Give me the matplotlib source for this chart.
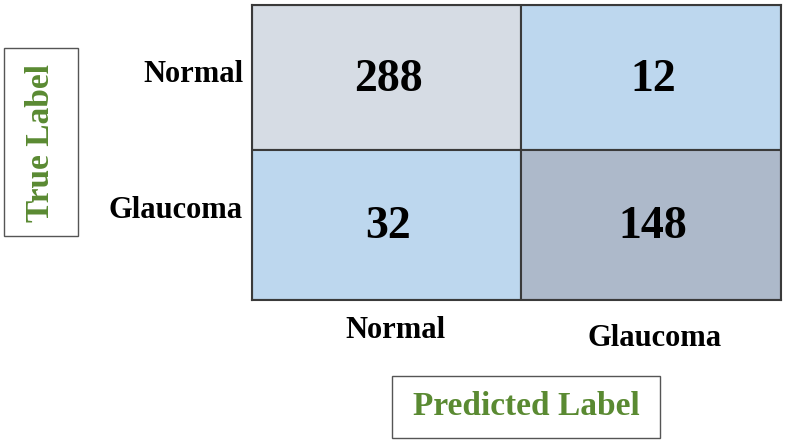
import matplotlib
matplotlib.use("Agg")
import matplotlib.pyplot as plt
from matplotlib.patches import Rectangle

classes = ["Normal", "Glaucoma"]
values = [[288, 12], [32, 148]]
cell_colors = [["#d6dce4", "#bdd7ee"], ["#bdd7ee", "#adb9ca"]]

W, H = 786, 444
fig = plt.figure(figsize=(W/100, H/100), dpi=100)
fig.patch.set_facecolor("white")
font = dict(family=["Liberation Serif", "DejaVu Serif"], weight="bold")

# pixel-space axes so cell borders match the reference
ax = fig.add_axes([252/W, 1-300/H, 529/W, 295/H])
ax.set_xlim(252, 781); ax.set_ylim(300, 5)
xs = [252, 521, 781]
ys = [5, 150, 300]
for i in range(2):
    for j in range(2):
        ax.add_patch(Rectangle((xs[j], ys[i]), xs[j+1]-xs[j], ys[i+1]-ys[i],
                               facecolor=cell_colors[i][j],
                               edgecolor="#3a3a3a", linewidth=1.5))
        ax.text((xs[j]+xs[j+1])/2 + 2, (ys[i]+ys[i+1])/2 + 2, str(values[i][j]),
                ha="center", va="center", fontsize=33, color="black", **font)
ax.set_xticks([]); ax.set_yticks([])
for s in ax.spines.values():
    s.set_color("#3a3a3a"); s.set_linewidth(1.5)

fig.text(243/W, 1-75/H, classes[0], ha="right", va="center", fontsize=22, **font)
fig.text(243/W, 1-210/H, classes[1], ha="right", va="center", fontsize=22, **font)
fig.text(395/W, 1-330/H, classes[0], ha="center", va="center", fontsize=22, **font)
fig.text(655/W, 1-338/H, classes[1], ha="center", va="center", fontsize=22, **font)

green = "#5a8a32"
fig.add_artist(Rectangle((4/W, 1-236/H), 74/W, 188/H, transform=fig.transFigure,
                         facecolor="white", edgecolor="#555555", linewidth=1))
fig.text(41/W, 1-143/H, "True Label", rotation=90, ha="center", va="center",
         fontsize=24, color=green, **font)
fig.add_artist(Rectangle((392/W, 1-438/H), 268/W, 62/H, transform=fig.transFigure,
                         facecolor="white", edgecolor="#555555", linewidth=1))
fig.text(526/W, 1-406/H, "Predicted Label", ha="center", va="center",
         fontsize=24, color=green, **font)

fig.savefig("out.png", dpi=100)
